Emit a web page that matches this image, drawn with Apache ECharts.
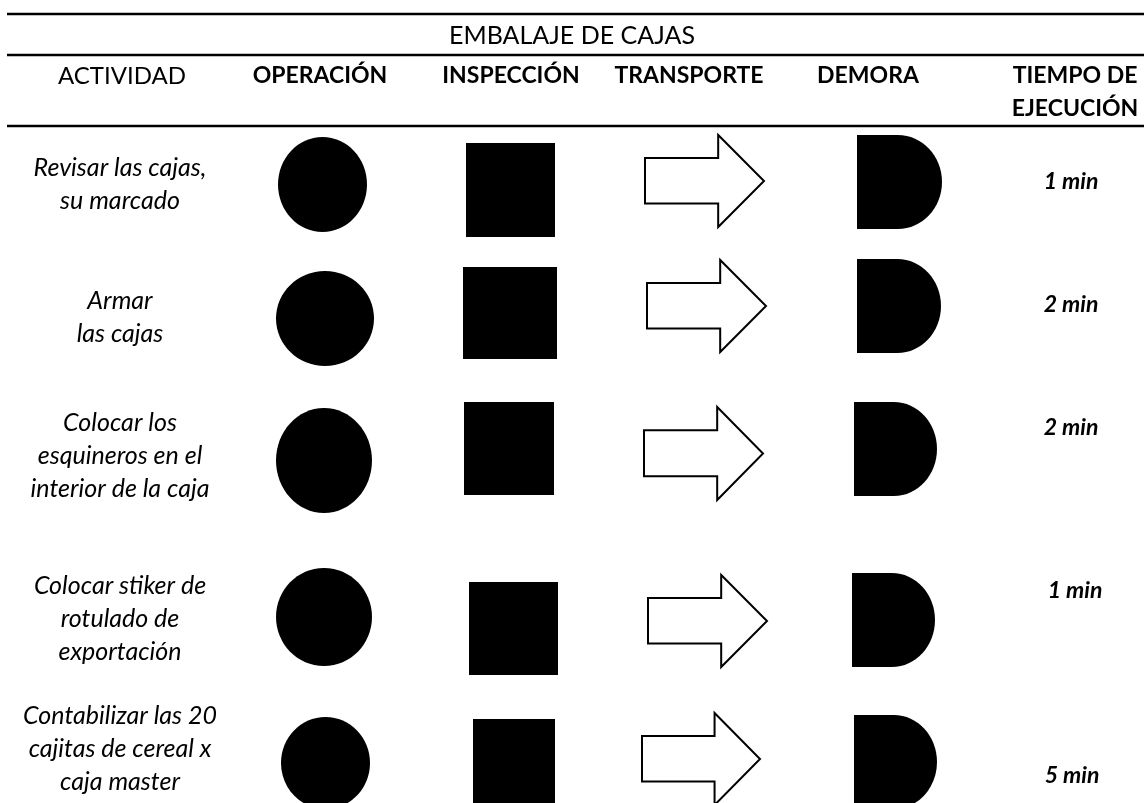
<!DOCTYPE html>
<html>
<head>
<meta charset="utf-8">
<script src="https://cdn.jsdelivr.net/npm/echarts@6/dist/echarts.min.js"></script>
<style>
html,body{margin:0;padding:0;background:#fff;}
#chart{width:1144px;height:803px;}
</style>
</head>
<body>
<div id="chart"></div>
<script>
// ---- data ----
const title = "EMBALAJE DE CAJAS";
const columns = ["ACTIVIDAD", "OPERACIÓN", "INSPECCIÓN", "TRANSPORTE", "DEMORA", "TIEMPO DE\nEJECUCIÓN"];
const activities = [
  "Revisar las cajas,\nsu marcado",
  "Armar\nlas cajas",
  "Colocar los\nesquineros en el\ninterior de la caja",
  "Colocar stiker de\nrotulado de\nexportación",
  "Contabilizar las 20\ncajitas de cereal x\ncaja master"
];
const times = [1, 2, 2, 1, 5];
const timeUnit = "min";

// ---- layout (pixel units of the hidden value axes) ----
const W = 1144, H = 803;
const ruleY = [14, 55, 126];
const ruleX = [7, 1144];
const titleY = 36;
const headerX = [122, 320, 511, 689, 868, 1075];
const headerY = 76;
const headerLine = 33;
const actX = 120;
const actY = [184, 317, 456, 619, 749];
const timeX = [1071, 1071, 1071, 1075, 1072];
const timeY = [182, 305, 428, 591, 776];
const opBox  = [[278,137,367,232],[276,271,374,366],[276,408,372,513],[276,568,372,666],[281,717,370,809]];
const insBox = [[466,143,555,237],[463,267,557,359],[464,402,554,495],[469,582,558,675],[473,719,555,812]];
const traBox = [[645,135,764,227],[647,260,766,352],[644,407,763,500],[648,575,767,667],[642,713,760,805]];
const demBox = [[857,135,942,229],[857,259,941,353],[854,402,937,496],[852,573,935,667],[854,715,937,809]];

const FONT = "Lato, 'Noto Sans', sans-serif";

function box(api, b) {
  const p0 = api.coord([b[0], b[1]]);
  const p1 = api.coord([b[2], b[3]]);
  return {x0: p0[0], y0: p0[1], x1: p1[0], y1: p1[1], w: p1[0]-p0[0], h: p1[1]-p0[1]};
}

function arrowPts(r) {
  const hb = r.x0 + r.w * 0.615;
  const st = r.y0 + r.h * 0.25, sb = r.y0 + r.h * 0.745;
  const ym = r.y0 + r.h / 2;
  return [[r.x0, st], [hb, st], [hb, r.y0], [r.x1, ym], [hb, r.y1], [hb, sb], [r.x0, sb]];
}

function dPath(r) {
  const rx = r.w * 0.52, ry = r.h / 2, k = 0.5523;
  const xs = r.x1 - rx, yc = r.y0 + ry;
  return `M${r.x0},${r.y0} L${xs},${r.y0} ` +
    `C${xs + k*rx},${r.y0} ${r.x1},${yc - k*ry} ${r.x1},${yc} ` +
    `C${r.x1},${yc + k*ry} ${xs + k*rx},${r.y1} ${xs},${r.y1} ` +
    `L${r.x0},${r.y1} Z`;
}

const chart = echarts.init(document.getElementById('chart'), null, {renderer: 'canvas'});

const rowData = activities.map((a, i) => [i]);

chart.setOption({
  backgroundColor: '#ffffff',
  animation: false,
  grid: {left: 0, right: 0, top: 0, bottom: 0},
  xAxis: {type: 'value', min: 0, max: W, show: false},
  yAxis: {type: 'value', min: 0, max: H, inverse: true, show: false},
  series: [
    {
      // header: rules, title and column names
      type: 'custom',
      data: [[0]],
      silent: true,
      renderItem: function (params, api) {
        const children = [];
        ruleY.forEach(y => {
          const a = api.coord([ruleX[0], y]), b = api.coord([ruleX[1], y]);
          children.push({type: 'line', shape: {x1: a[0], y1: a[1], x2: b[0], y2: b[1]},
            style: {stroke: '#000', lineWidth: 2.6}});
        });
        const t = api.coord([W / 2, titleY]);
        children.push({type: 'text', x: t[0], y: t[1],
          style: {text: title, fill: '#000', font: `400 25px ${FONT}`, align: 'center', verticalAlign: 'middle'}});
        columns.forEach((c, i) => {
          const lines = c.split('\n');
          lines.forEach((ln, j) => {
            const p = api.coord([headerX[i], headerY + j * headerLine]);
            children.push({type: 'text', x: p[0], y: p[1],
              style: {text: ln, fill: '#000', font: i === 0 ? `400 24px ${FONT}` : `700 23px ${FONT}`,
                align: 'center', verticalAlign: 'middle'}});
          });
        });
        return {type: 'group', children};
      }
    },
    {
      // activities and times
      type: 'custom',
      data: rowData,
      silent: true,
      renderItem: function (params, api) {
        const i = params.dataIndex;
        const pa = api.coord([actX, actY[i]]);
        const pt = api.coord([timeX[i], timeY[i]]);
        return {type: 'group', children: [
          {type: 'text', x: pa[0], y: pa[1], style: {text: activities[i], fill: '#000',
            font: `italic 400 25px ${FONT}`, lineHeight: 33, align: 'center', verticalAlign: 'middle'}},
          {type: 'text', x: pt[0], y: pt[1], style: {text: times[i] + ' ' + timeUnit, fill: '#000',
            font: `italic 700 23px ${FONT}`, align: 'center', verticalAlign: 'middle'}}
        ]};
      }
    },
    {
      // process symbols
      type: 'custom',
      data: rowData,
      silent: true,
      renderItem: function (params, api) {
        const i = params.dataIndex;
        const o = box(api, opBox[i]);
        const s = box(api, insBox[i]);
        const t = box(api, traBox[i]);
        const d = box(api, demBox[i]);
        return {type: 'group', children: [
          {type: 'ellipse', shape: {cx: (o.x0 + o.x1) / 2, cy: (o.y0 + o.y1) / 2, rx: o.w / 2, ry: o.h / 2},
            style: {fill: '#000'}},
          {type: 'rect', shape: {x: s.x0, y: s.y0, width: s.w, height: s.h}, style: {fill: '#000'}},
          {type: 'polygon', shape: {points: arrowPts(t)}, style: {fill: '#fff', stroke: '#000', lineWidth: 2}},
          {type: 'path', shape: {pathData: dPath(d)}, style: {fill: '#000'}}
        ]};
      }
    }
  ]
});
</script>
</body>
</html>
